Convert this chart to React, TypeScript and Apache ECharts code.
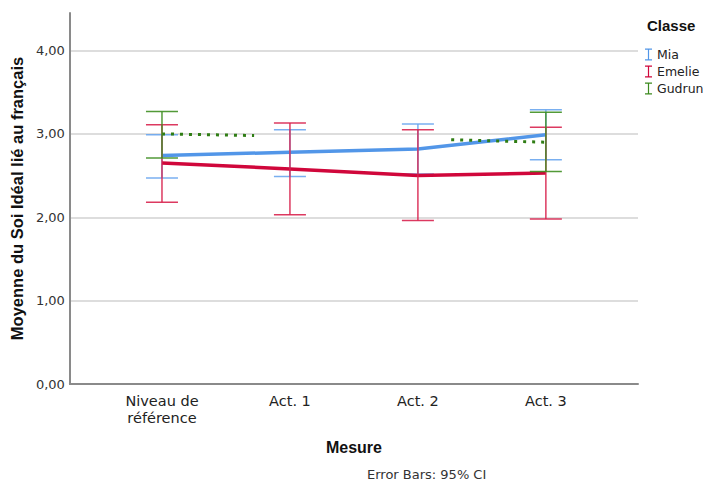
import React, { useEffect, useRef } from 'react';
import * as echarts from 'echarts';

const categories = ['Niveau de\nréférence', 'Act. 1', 'Act. 2', 'Act. 3'];
const categoryIdx = [0, 1, 2, 3];
const yTicks = [0, 1, 2, 3, 4];

const miaMean = [2.74, 2.78, 2.82, 2.99];
const miaLow = [2.47, 2.49, 2.52, 2.69];
const miaHigh = [2.99, 3.05, 3.12, 3.29];

const emelieMean = [2.65, 2.58, 2.5, 2.53];
const emelieLow = [2.18, 2.03, 1.96, 1.98];
const emelieHigh = [3.11, 3.13, 3.05, 3.08];

const gudrunIdx = [0, 3];
const gudrunMean = [3.0, 2.9];
const gudrunLow = [2.71, 2.55];
const gudrunHigh = [3.27, 3.26];
const gudrunDotA = [[0, 3.0], [0.72, 2.98]];
const gudrunDotB = [[2.26, 2.93], [3, 2.9]];

const BLUE = '#5296e8';
const RED = '#d0073b';
const GREEN = '#3c8a1e';
const FONT = 'DejaVu Sans';
const BOLDFONT = 'Liberation Sans';

const IBEAM = 'path://M0,0H7V1.2H4.1V10.8H7V12H0V10.8H2.9V1.2H0Z';

function errRender(color: string) {
  return (params: any, api: any) => {
    const x = api.value(0);
    const lo = api.value(1);
    const hi = api.value(2);
    const pLo = api.coord([x, lo]);
    const pHi = api.coord([x, hi]);
    const hw = 16;
    const style = { stroke: color, lineWidth: 1.5, fill: null, opacity: 0.9 };
    return {
      type: 'group',
      children: [
        { type: 'line', shape: { x1: pLo[0], y1: pLo[1], x2: pHi[0], y2: pHi[1] }, style },
        { type: 'line', shape: { x1: pLo[0] - hw, y1: pLo[1], x2: pLo[0] + hw, y2: pLo[1] }, style },
        { type: 'line', shape: { x1: pHi[0] - hw, y1: pHi[1], x2: pHi[0] + hw, y2: pHi[1] }, style },
      ],
    };
  };
}

export default function App() {
  const ref = useRef<HTMLDivElement>(null);
  useEffect(() => {
    document.body.style.margin = '0';
    const chart = echarts.init(ref.current!, null, { renderer: 'svg' });
    const fmt = (v: number) => (yTicks.includes(v) ? v.toFixed(2).replace('.', ',') : '');
    chart.setOption({
      animation: false,
      textStyle: { fontFamily: FONT },
      grid: { left: 67, right: 68, top: 13, bottom: 100 },
      xAxis: {
        type: 'value',
        min: -0.72,
        max: 3.72,
        axisLine: { show: true, onZero: false, lineStyle: { color: '#8a8a8a', width: 2 } },
        axisTick: { show: false },
        splitLine: { show: false },
        axisLabel: {
          customValues: categoryIdx,
          formatter: (v: number) => categories[Math.round(v)] ?? '',
          color: '#222',
          fontSize: 14.5,
          fontFamily: FONT,
          lineHeight: 17,
          margin: 8,
        },
        name: 'Mesure',
        nameLocation: 'middle',
        nameGap: 55,
        nameTextStyle: { fontSize: 16, fontWeight: 'bold', color: '#111', fontFamily: BOLDFONT },
      },
      yAxis: {
        type: 'value',
        min: 0,
        max: 4.45,
        interval: 1,
        axisLine: { show: true, onZero: false, lineStyle: { color: '#8a8a8a', width: 2 } },
        axisTick: { show: false },
        splitLine: { show: true, showMaxLine: false, showMinLine: false, lineStyle: { color: '#d2d2d2', width: 1.5 } },
        axisLabel: { formatter: fmt, color: '#333', fontSize: 13, fontFamily: FONT, margin: 5, showMaxLabel: false },
        name: 'Moyenne du Soi Idéal lié au français',
        nameLocation: 'middle',
        nameGap: 40,
        nameTextStyle: { fontSize: 16.5, fontWeight: 'bold', color: '#111', fontFamily: BOLDFONT },
      },
      legend: {
        orient: 'vertical',
        left: 640,
        top: 43,
        itemWidth: 7,
        itemHeight: 12,
        itemGap: 4,
        textStyle: { fontSize: 12.5, color: '#222', fontFamily: FONT },
        data: [
          { name: 'Mia', icon: IBEAM },
          { name: 'Emelie', icon: IBEAM },
          { name: 'Gudrun', icon: IBEAM },
        ],
      },
      graphic: [
        {
          type: 'text',
          left: 647,
          top: 18,
          style: { text: 'Classe', font: `bold 15px "${BOLDFONT}"`, fill: '#111' },
        },
        {
          type: 'text',
          left: 367,
          top: 468,
          style: { text: 'Error Bars: 95% CI', font: `13px "${FONT}"`, fill: '#333' },
        },
      ],
      series: [
        {
          name: 'Mia',
          type: 'line',
          color: BLUE,
          data: categoryIdx.map((i) => [i, miaMean[i]]),
          showSymbol: false,
          lineStyle: { width: 3.5, color: BLUE },
          z: 2,
        },
        {
          name: 'Mia',
          type: 'custom',
          color: BLUE,
          renderItem: errRender('#6aa6ee'),
          encode: { x: 0, y: [1, 2] },
          data: categoryIdx.map((i) => [i, miaLow[i], miaHigh[i]]),
          z: 3,
        },
        {
          name: 'Emelie',
          type: 'line',
          color: RED,
          data: categoryIdx.map((i) => [i, emelieMean[i]]),
          showSymbol: false,
          lineStyle: { width: 3.5, color: RED },
          z: 4,
        },
        {
          name: 'Emelie',
          type: 'custom',
          color: RED,
          renderItem: errRender('#d8234f'),
          encode: { x: 0, y: [1, 2] },
          data: categoryIdx.map((i) => [i, emelieLow[i], emelieHigh[i]]),
          z: 5,
        },
        {
          name: 'Gudrun',
          type: 'line',
          color: GREEN,
          data: gudrunDotA,
          showSymbol: false,
          lineStyle: { width: 3, color: '#2f7d14', type: [3, 6], cap: 'butt' },
          z: 6,
        },
        {
          name: 'Gudrun',
          type: 'line',
          color: GREEN,
          data: gudrunDotB,
          showSymbol: false,
          lineStyle: { width: 3, color: '#2f7d14', type: [3, 6], cap: 'butt' },
          z: 6,
        },
        {
          name: 'Gudrun',
          type: 'custom',
          color: GREEN,
          renderItem: errRender('#3f8f22'),
          encode: { x: 0, y: [1, 2] },
          data: gudrunIdx.map((c, k) => [c, gudrunLow[k], gudrunHigh[k]]),
          z: 7,
        },
        {
          name: 'Gudrun',
          type: 'scatter',
          color: GREEN,
          data: gudrunIdx.map((c, k) => [c, gudrunMean[k]]),
          symbolSize: 0,
          silent: true,
        },
      ],
    });
    return () => chart.dispose();
  }, []);
  return <div ref={ref} style={{ width: 706, height: 484, overflow: 'hidden' }} />;
}
